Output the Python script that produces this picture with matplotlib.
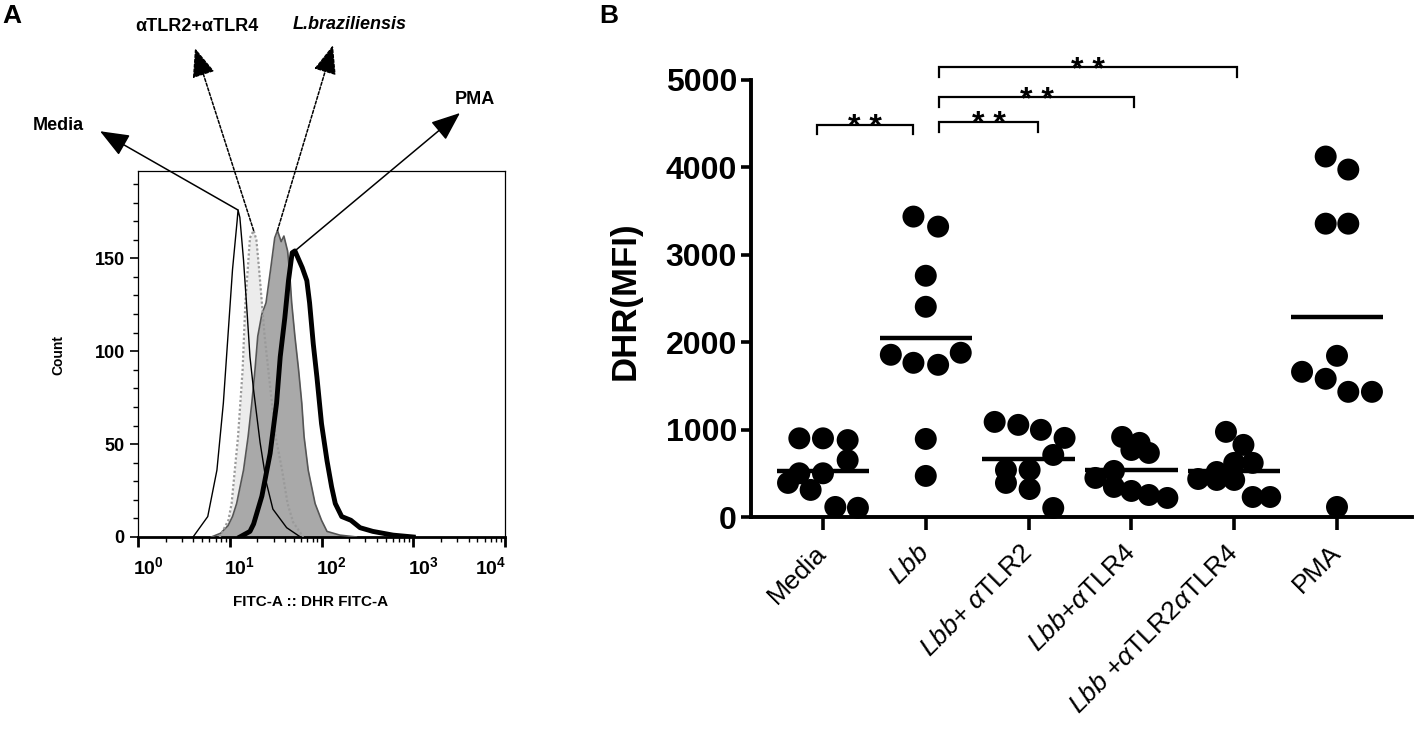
import numpy as np
import matplotlib
matplotlib.use("Agg")
import matplotlib.pyplot as plt
from matplotlib.transforms import ScaledTranslation

plt.rcParams['font.family'] = ['Liberation Sans', 'DejaVu Sans']
plt.rcParams['mathtext.fontset'] = 'custom'
plt.rcParams['mathtext.rm'] = 'Liberation Sans'
plt.rcParams['mathtext.it'] = 'Liberation Sans:italic'
plt.rcParams['mathtext.bf'] = 'Liberation Sans:bold'

# ---- Panel A: flow histograms, (log10 FITC, count)
media_log = [0.60, 0.76, 0.86, 0.93, 0.98, 1.03, 1.08, 1.09, 1.11, 1.15, 1.19, 1.22,
             1.26, 1.33, 1.40, 1.47, 1.62, 1.77]
media_cnt = [0, 11, 36, 72, 108, 144, 170, 176, 172, 149, 120, 97, 79, 51, 29, 15, 5, 0]

tlr_log = [0.89, 0.985, 1.02, 1.09, 1.14, 1.17, 1.22, 1.26, 1.29, 1.32, 1.35, 1.38,
           1.42, 1.46, 1.50, 1.57, 1.63, 1.69, 1.80]
tlr_cnt = [0, 9, 18, 54, 90, 126, 161, 165, 160, 144, 126, 108, 90, 72, 54, 36, 18, 8, 0]

lbb_log = [0.80, 0.90, 0.98, 1.03, 1.075, 1.15, 1.20, 1.24, 1.275, 1.305, 1.35, 1.395,
           1.445, 1.49, 1.52, 1.56, 1.59, 1.63, 1.65, 1.675, 1.71, 1.75, 1.785, 1.81,
           1.855, 1.93, 2.00, 2.06, 2.20, 2.38]
lbb_cnt = [0, 2, 6, 11, 18, 36, 54, 72, 90, 108, 120, 126, 144, 161, 165, 159, 162, 154,
           144, 126, 108, 90, 72, 54, 36, 18, 9, 3, 1, 0]

pma_log = [1.11, 1.22, 1.26, 1.35, 1.44, 1.51, 1.55, 1.60, 1.64, 1.68, 1.71, 1.79, 1.84,
           1.87, 1.91, 1.95, 2.00, 2.06, 2.11, 2.15, 2.22, 2.32, 2.42, 2.56, 2.78, 3.0]
pma_cnt = [0, 3, 7, 22, 45, 72, 97, 118, 138, 153, 154, 145, 138, 126, 104, 86, 61, 41,
           27, 18, 11, 9, 5, 3, 1, 0]

hist_labels = ['Media', 'αTLR2+αTLR4', 'L.braziliensis', 'PMA']

# ---- Panel B: DHR MFI per sample, and horizontal spread as drawn
groups = ['Media', r'$\mathit{Lbb}$', r'$\mathit{Lbb}$+ $\mathit{\alpha}$TLR2',
          r'$\mathit{Lbb}$+$\mathit{\alpha}$TLR4', r'$\mathit{Lbb}$ +$\alpha$TLR2$\alpha$TLR4', 'PMA']

media = [900, 900, 880, 650, 500, 500, 390, 310, 115, 105]
media_dx = [-0.23, 0, 0.24, 0.24, -0.23, 0, -0.34, -0.12, 0.12, 0.34]
lbb = [3437, 3322, 2760, 2405, 1856, 1764, 1741, 1879, 893, 470]
lbb_dx = [-0.12, 0.12, 0, 0, -0.34, -0.12, 0.12, 0.34, 0, 0]
tlr2 = [1088, 1054, 997, 905, 710, 538, 538, 390, 320, 103]
tlr2_dx = [-0.33, -0.10, 0.12, 0.35, 0.24, -0.22, 0.01, -0.22, 0.01, 0.24]
tlr4 = [916, 848, 767, 733, 527, 447, 344, 298, 252, 218]
tlr4_dx = [-0.09, 0.08, 0, 0.17, -0.17, -0.35, -0.17, 0, 0.17, 0.35]
tlr24 = [974, 825, 619, 619, 515, 435, 424, 424, 229, 229]
tlr24_dx = [-0.08, 0.09, 0, 0.18, -0.17, -0.35, -0.17, 0, 0.18, 0.35]
pma = [4124, 3975, 3356, 3356, 1844, 1661, 1581, 1432, 1432, 115]
pma_dx = [-0.11, 0.11, -0.11, 0.11, 0, -0.34, -0.11, 0.11, 0.34, 0]

# significance brackets: (x left, x right, height)
brackets = [(-0.06, 0.88, 4490), (1.13, 2.09, 4515), (1.13, 3.03, 4800), (1.13, 4.03, 5143)]

fig = plt.figure(figsize=(14.17, 7.29), dpi=100)

# ================= Panel A =================
axA = fig.add_axes([0.0974, 0.2634, 0.259, 0.502])
axA.set_xscale('log')
x_media = 10 ** np.array(media_log)
x_tlr = 10 ** np.array(tlr_log)
x_lbb = 10 ** np.array(lbb_log)
x_pma = 10 ** np.array(pma_log)

axA.fill_between(x_tlr, tlr_cnt, color='#ececec', lw=0, zorder=1)
axA.fill_between(x_lbb, lbb_cnt, color='#a9a9a9', lw=0, zorder=2)
axA.plot(x_lbb, lbb_cnt, color='#555555', lw=1.2, zorder=3)
axA.plot(x_tlr, tlr_cnt, color='#9a9a9a', lw=1.6, ls=(0, (1, 1)), zorder=4)
axA.plot(x_media, media_cnt, color='black', lw=1.0, zorder=5)
axA.plot(x_pma, pma_cnt, color='black', lw=3.5, zorder=6)

axA.set_xlim(1, 1e4)
axA.set_ylim(0, 197)
axA.set_yticks([0, 50, 100, 150])
axA.set_yticks(np.arange(0, 200, 10), minor=True)
axA.set_xticks([1, 10, 100, 1000, 10000])
axA.set_xticklabels([r'$\mathbf{10^{%d}}$' % i for i in range(5)])
axA.tick_params(axis='both', which='major', direction='out', length=6, width=1.2,
                labelsize=13)
axA.tick_params(axis='both', which='minor', direction='out', length=3.5, width=1.0)
axA.tick_params(axis='x', which='major', length=7, width=2.0, pad=7, labelsize=14)
for lab in axA.get_yticklabels():
    lab.set_fontweight('bold')
xl = axA.get_xticklabels()
for i, lab in enumerate(xl):
    dx = -14 if i == len(xl) - 1 else 10
    lab.set_transform(lab.get_transform() + ScaledTranslation(dx / 100, 0, fig.dpi_scale_trans))
for s in axA.spines.values():
    s.set_linewidth(0.9)
axA.spines['bottom'].set_linewidth(2.0)

fig.text(0.041, 0.513, 'Count', rotation=90, ha='center', va='center',
         fontsize=10, fontweight='bold')
fig.text(0.2195, 0.174, 'FITC-A :: DHR FITC-A', ha='center', va='center',
         fontsize=11, fontweight='bold')

# arrows from each histogram peak out to its label
curves = [(x_media, media_cnt, '-'), (x_tlr, tlr_cnt, (0, (2, 1.2))),
          (x_lbb, lbb_cnt, (0, (2, 1.2))), (x_pma, pma_cnt, '-')]
tips = [(0.0706, 0.820), (0.1376, 0.934), (0.235, 0.938), (0.3246, 0.845)]
label_pos = [(0.041, 0.8285), (0.139, 0.963), (0.247, 0.966), (0.335, 0.863)]
for (xs, cs, ls), tip, lp, name in zip(curves, tips, label_pos, hist_labels):
    k = int(np.argmax(cs))
    axA.annotate('', xy=tip, xycoords='figure fraction', xytext=(xs[k], cs[k]),
                 textcoords='data', annotation_clip=False,
                 arrowprops=dict(arrowstyle='-|>,head_length=1.0,head_width=0.4',
                                 mutation_scale=18, color='black', lw=1.1, ls=ls,
                                 shrinkA=0, shrinkB=0), zorder=10)
    style = 'italic' if name.startswith('L.') else 'normal'
    fig.text(lp[0], lp[1], name, ha='center', va='center', fontsize=13,
             fontweight='bold', style=style)

fig.text(0.002, 0.978, 'A', fontsize=19, fontweight='bold', ha='left', va='center')
fig.text(0.423, 0.978, 'B', fontsize=19, fontweight='bold', ha='left', va='center')

# ================= Panel B =================
axB = fig.add_axes([0.530, 0.2908, 0.4665, 0.5995])
values = [media, lbb, tlr2, tlr4, tlr24, pma]
spreads = [media_dx, lbb_dx, tlr2_dx, tlr4_dx, tlr24_dx, pma_dx]
for i, (vals, dxs) in enumerate(zip(values, spreads)):
    axB.scatter(i + np.array(dxs), vals, s=250, color='black', edgecolors='none',
                clip_on=False, zorder=3)
    m = np.mean(vals)
    axB.plot([i - 0.45, i + 0.45], [m, m], color='black', lw=3.2, zorder=4,
             solid_capstyle='butt')

for x1, x2, h in brackets:
    drop = 105
    axB.plot([x1, x1, x2, x2], [h - drop, h, h, h - drop], color='black', lw=1.6,
             clip_on=False, solid_joinstyle='miter')
    axB.annotate('* *', xy=((x1 + x2) / 2, h), xytext=(0, -8), textcoords='offset points',
                 ha='center', va='baseline', fontsize=23, fontweight='bold',
                 annotation_clip=False)

axB.set_xlim(-0.70, 5.73)
axB.set_ylim(0, 5000)
axB.set_yticks(np.arange(0, 5001, 1000))
axB.set_xticks(range(len(groups)))
axB.set_xticklabels(groups, rotation=45, ha='right', va='center',
                    rotation_mode='anchor', fontsize=19)
axB.tick_params(axis='y', direction='out', length=7, width=2.6, labelsize=23, pad=3)
axB.tick_params(axis='x', direction='out', length=9, width=2.6, pad=14)
for lab in axB.get_yticklabels():
    lab.set_fontweight('bold')
axB.spines['top'].set_visible(False)
axB.spines['right'].set_visible(False)
axB.spines['left'].set_linewidth(2.8)
axB.spines['bottom'].set_linewidth(2.8)

fig.text(0.441, 0.588, 'DHR(MFI)', rotation=90, ha='center', va='center',
         fontsize=25, fontweight='bold')

fig.savefig('out.png', dpi=100)
